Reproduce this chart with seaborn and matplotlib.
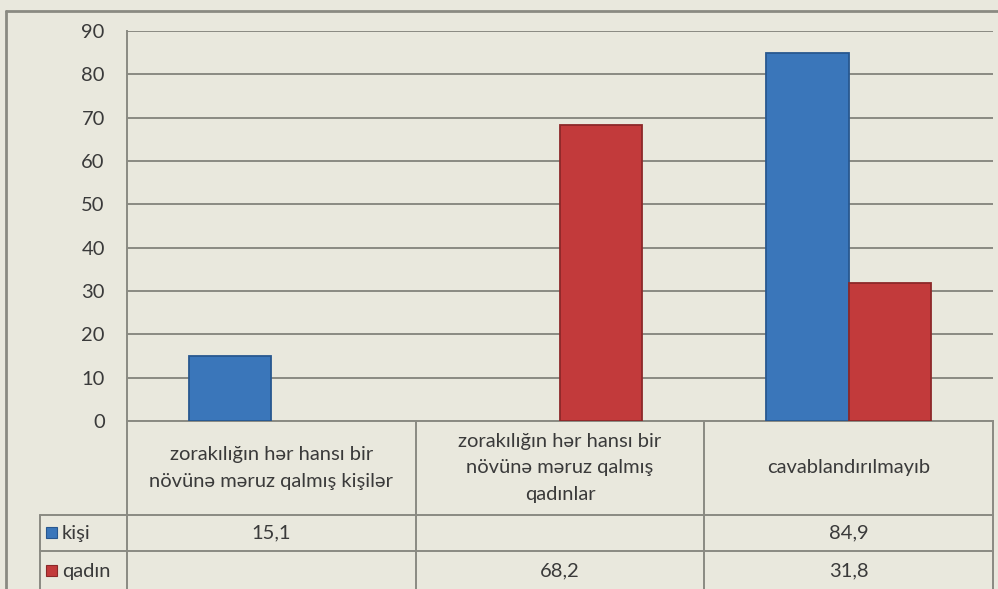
import matplotlib
matplotlib.use("Agg")
import matplotlib.pyplot as plt
import seaborn as sns
import pandas as pd
import numpy as np

# data
categories = [
    "zorakılığın hər hansı bir\nnövünə məruz qalmış kişilər",
    "zorakılığın hər hansı bir\nnövünə məruz qalmış\nqadınlar",
    "cavablandırılmayıb",
]
series = ["kişi", "qadın"]
kisi = [15.1, np.nan, 84.9]
qadin = [np.nan, 68.2, 31.8]
yticks = list(range(0, 100, 10))

colors = {"kişi": "#3A76BA", "qadın": "#C23A3B"}
edges = {"kişi": "#28578F", "qadın": "#8C2829"}
bg = "#E9E8DD"
line_c = "#8A8A82"
text_c = "#3A3A3A"

df = pd.DataFrame({
    "cat": categories * 2,
    "series": [series[0]] * 3 + [series[1]] * 3,
    "value": kisi + qadin,
})

sns.set_style("white")
plt.rcParams["font.family"] = ["Lato", "DejaVu Sans"]

W, H = 998, 589
fig = plt.figure(figsize=(W / 100, H / 100), dpi=100, facecolor=bg)

# layout in pixels
x0, x1 = 127, 993
y_top, y_zero = 31, 421
row1, row2 = 515, 551
leg_x = 40
fs = 14.5

ax = fig.add_axes([x0 / W, 1 - y_zero / H, (x1 - x0) / W, (y_zero - y_top) / H])
ax.set_facecolor("none")
sns.barplot(data=df, x="cat", y="value", hue="series", hue_order=series,
            palette=colors, saturation=1, width=0.57, ax=ax, legend=False,
            zorder=3, errorbar=None)
for cont, s in zip(ax.containers, series):
    for p in cont:
        p.set_edgecolor(edges[s])
        p.set_linewidth(1.3)

ax.set_xlim(-0.5, len(categories) - 0.5)
ax.set_ylim(0, 90)
ax.set_yticks(yticks)
ax.set_xticks([])
ax.set_xlabel("")
ax.set_ylabel("")
ax.yaxis.grid(True, color=line_c, linewidth=1.4)
ax.set_axisbelow(True)
ax.tick_params(axis="y", length=0, pad=16, labelsize=fs, labelcolor=text_c)
for side in ["top", "right"]:
    ax.spines[side].set_visible(False)
for side in ["left", "bottom"]:
    ax.spines[side].set_color(line_c)
    ax.spines[side].set_linewidth(1.4)

# overlay for the data table and outer border
ov = fig.add_axes([0, 0, 1, 1], zorder=5)
ov.set_xlim(0, W)
ov.set_ylim(H, 0)
ov.axis("off")
ov.patch.set_alpha(0)

lw = 1.4
ov.plot([6, W], [11, 11], color=line_c, lw=2)
ov.plot([6, 6], [11, H], color=line_c, lw=2)

col_w = (x1 - x0) / len(categories)
bounds = [x0 + i * col_w for i in range(len(categories) + 1)]
for b in bounds:
    ov.plot([b, b], [y_zero, H], color=line_c, lw=lw)
ov.plot([leg_x, leg_x], [row1, H], color=line_c, lw=lw)
for yy in [row1, row2]:
    ov.plot([leg_x, x1], [yy, yy], color=line_c, lw=lw)

for i, cat in enumerate(categories):
    cx = (bounds[i] + bounds[i + 1]) / 2
    ov.text(cx, (y_zero + row1) / 2, cat, ha="center", va="center",
            fontsize=fs, color=text_c, linespacing=1.65)

rows = [(series[0], kisi, (row1 + row2) / 2), (series[1], qadin, (row2 + H) / 2 + 1)]
for name, vals, cy in rows:
    ov.add_patch(plt.Rectangle((leg_x + 6, cy - 6), 11, 11,
                               facecolor=colors[name], edgecolor=edges[name], lw=0.8))
    ov.text(leg_x + 22, cy, name, ha="left", va="center", fontsize=fs, color=text_c)
    for i, v in enumerate(vals):
        if np.isnan(v):
            continue
        cx = (bounds[i] + bounds[i + 1]) / 2
        ov.text(cx, cy, f"{v:.1f}".replace(".", ","), ha="center", va="center",
                fontsize=fs, color=text_c)

fig.savefig("out.png", dpi=100, facecolor=bg)
